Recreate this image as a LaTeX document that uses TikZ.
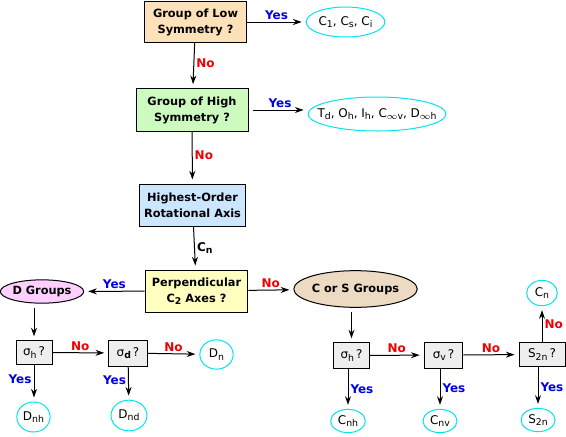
\documentclass[tikz,border=0pt]{standalone}
\usepackage{fontspec}
\setmainfont{DejaVu Sans}
\usetikzlibrary{shapes.geometric,arrows.meta}

\definecolor{lowfill}{RGB}{253,225,185}
\definecolor{highfill}{RGB}{205,250,190}
\definecolor{axisfill}{RGB}{205,230,255}
\definecolor{perpfill}{RGB}{255,255,192}
\definecolor{dfill}{RGB}{255,208,255}
\definecolor{csfill}{RGB}{236,218,194}
\definecolor{sigfill}{RGB}{238,238,238}
\definecolor{rescyan}{RGB}{0,228,240}
\definecolor{yesblue}{RGB}{0,0,230}
\definecolor{nored}{RGB}{240,0,0}

\newcommand{\sbs}[1]{\raisebox{-0.35ex}{\fontsize{7}{8}\selectfont #1}}

\tikzset{
  qbox/.style={draw,line width=0.75pt,align=center,inner sep=0pt,font=\fontsize{8.5}{12}\selectfont\bfseries},
  sigbox/.style={draw,line width=0.75pt,fill=sigfill,inner sep=0pt,font=\fontsize{9}{10}\selectfont},
  grp/.style={draw,ellipse,line width=0.75pt,inner sep=0pt,font=\fontsize{8.5}{10}\selectfont\bfseries},
  res/.style={draw=rescyan,ellipse,line width=0.75pt,inner sep=0pt,font=\fontsize{9}{10}\selectfont},
  arr/.style={-{Stealth[length=6.5pt,width=4.5pt]},line width=0.75pt,shorten >=3pt},
  yes/.style={text=yesblue,font=\fontsize{9}{10}\selectfont\bfseries,inner sep=1.5pt},
  no/.style={text=nored,font=\fontsize{9}{10}\selectfont\bfseries,inner sep=1.5pt},
  lab/.style={font=\fontsize{9}{10}\selectfont\bfseries,inner sep=1.5pt}
}

\begin{document}
\begin{tikzpicture}[x=0.75pt,y=0.75pt,yscale=-1,xscale=1]
\useasboundingbox (0,0) rectangle (566,436);

% Question boxes
\node [qbox,fill=lowfill,minimum width=77pt,minimum height=31pt] (low) at (195.5,22) {Group of Low\\Symmetry ?};
\node [qbox,fill=highfill,minimum width=84pt,minimum height=32pt] (high) at (192,110) {Group of High\\Symmetry ?};
\node [qbox,fill=axisfill,minimum width=80pt,minimum height=31.5pt] (axis) at (192.5,205) {Highest-Order\\Rotational Axis};
\node [qbox,fill=perpfill,minimum width=77pt,minimum height=31.5pt] (perp) at (196.5,291) {Perpendicular\\C\sbs{\bfseries 2} Axes ?};

% Result ellipses
\node [res,inner xsep=-1.5pt,minimum width=59pt,minimum height=22.5pt] (lowres) at (345.5,22) {C\sbs{1}, C\sbs{s}, C\sbs{i}};
\node [res,inner xsep=-8pt,minimum width=101pt,minimum height=25.5pt] (highres) at (377,114) {T\sbs{d}, O\sbs{h}, I\sbs{h}, C\sbs{$\infty$v}, D\sbs{$\infty$h}};

% Group ellipses
\node [grp,fill=dfill,minimum width=61.5pt,minimum height=17.5pt] (dgrp) at (42,291.5) {D Groups};
\node [grp,fill=csfill,minimum width=80pt,minimum height=27.5pt] (csgrp) at (355.5,289) {C or S Groups};

% D branch
\node [sigbox,minimum width=27pt,minimum height=17.5pt] (dsh) at (34,352.5) {σ\sbs{h}\,?};
\node [sigbox,minimum width=29pt,minimum height=19.5pt] (dsd) at (128,353) {σ\sbs{\bfseries d}\,?};
\node [res,minimum width=25pt,minimum height=22pt] (dn) at (216.5,354.5) {D\sbs{n}};
\node [res,minimum width=25pt,minimum height=22.5pt] (dnh) at (33.5,417) {D\sbs{nh}};
\node [res,minimum width=27pt,minimum height=23pt] (dnd) at (129,415.5) {D\sbs{nd}};

% C or S branch
\node [sigbox,minimum width=26.5pt,minimum height=19pt] (csh) at (351.5,355.5) {σ\sbs{h}\,?};
\node [sigbox,minimum width=29pt,minimum height=19.5pt] (csv) at (443.5,355) {σ\sbs{v}\,?};
\node [sigbox,minimum width=34.5pt,minimum height=17.5pt] (cs2n) at (542,354.5) {S\sbs{2n}\,?};
\node [res,minimum width=23pt,minimum height=19pt] (cn) at (542,293) {C\sbs{n}};
\node [res,minimum width=26pt,minimum height=17.5pt] (cnh) at (348,421) {C\sbs{nh}};
\node [res,minimum width=25.5pt,minimum height=17.5pt] (cnv) at (440,421) {C\sbs{nv}};
\node [res,minimum width=25.5pt,minimum height=17.5pt] (s2n) at (538,420) {S\sbs{2n}};

% Connectors
\draw [arr] (low) -- node [yes,above] {Yes} (lowres);
\draw [arr] (low) -- node [no,right,pos=0.45] {No} (high);
\draw [arr] (high.east) ++(4,0) -- node [yes,above] {Yes} (highres.west |- high.east);
\draw [arr] (high) -- node [no,right,pos=0.45] {No} (axis);
\draw [arr] (axis) -- node [lab,right] {C\sbs{\bfseries n}} (perp);
\draw [arr] (perp) -- node [yes,above] {Yes} (dgrp);
\draw [arr] (perp) -- node [no,above] {No} (csgrp);

\draw [arr] (dgrp.south -| dsh) ++(0,4) -- (dsh);
\draw [arr] (dsh) -- node [no,above] {No} (dsd);
\draw [arr] (dsd) -- node [no,above] {No} (dn);
\draw [arr] (dsh) -- node [yes,left,pos=0.4] {Yes} (dnh.north -| dsh);
\draw [arr] (dsd) -- node [yes,left,pos=0.4] {Yes} (dnd);

\draw [arr] (csgrp.south -| csh) ++(0,4) -- (csh);
\draw [arr] (csh) -- node [no,above] {No} (csv);
\draw [arr] (csv) -- node [no,above] {No} (cs2n);
\draw [arr] (cs2n) -- node [no,right] {No} (cn);
\draw [arr] (csh.south -| cnh) -- node [yes,right] {Yes} (cnh);
\draw [arr] (csv.south -| cnv) -- node [yes,right] {Yes} (cnv);
\draw [arr] (cs2n.south -| s2n) -- node [yes,right] {Yes} (s2n);

\end{tikzpicture}
\end{document}
